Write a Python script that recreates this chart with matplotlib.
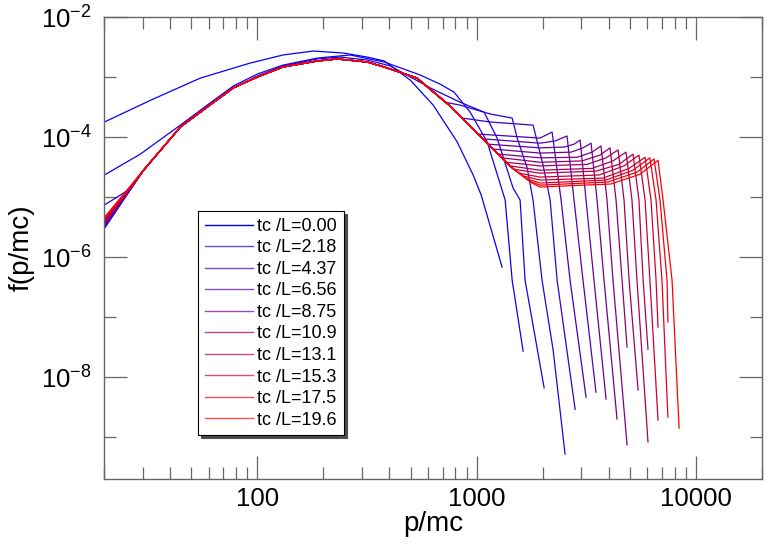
import math
import matplotlib
matplotlib.use("Agg")
import matplotlib.pyplot as plt
from matplotlib.lines import Line2D
from matplotlib.ticker import FixedLocator, LogLocator, NullFormatter

plt.rcParams['font.family'] = ['Liberation Sans', 'DejaVu Sans']
plt.rcParams['mathtext.fontset'] = 'custom'
plt.rcParams['mathtext.rm'] = 'Liberation Sans'
plt.rcParams['mathtext.it'] = 'Liberation Sans'

# shared low-momentum part (all later curves lie on it)
P_BUNDLE = [20.1, 30.3, 44.6, 59.1, 77.8, 100, 131, 188, 231, 317, 379, 535, 766, 1081, 1435, 1888]
F_BUNDLE = [4.1e-6, 2.8e-5, 1.47e-4, 3.16e-4, 6.6e-4, 1.0e-3, 1.47e-3, 1.85e-3, 2.0e-3,
            1.78e-3, 1.47e-3, 9.6e-4, 3.16e-4, 8.9e-5, 3.16e-5, 1.47e-5]

# first three curves have their own shape
P_T0 = [20.1, 32.6, 55.0, 92.9, 131, 180, 247, 317, 379, 498, 634, 815, 964, 1049, 1306]
F_T0 = [1.78e-4, 4.1e-4, 9.6e-4, 1.71e-3, 2.33e-3, 2.71e-3, 2.51e-3, 2.15e-3, 1.85e-3,
        8.9e-4, 3.4e-4, 8.3e-5, 2.33e-5, 1.08e-5, 6.8e-7]

P_T1 = [20.1, 29.3, 44.6, 59.1, 77.8, 100, 131, 188, 265, 379, 553, 682, 789, 934,
        1117, 1349, 1452, 1629]
F_T1 = [2.33e-5, 5.2e-5, 1.58e-4, 3.4e-4, 7.1e-4, 1.12e-3, 1.58e-3, 2.07e-3, 2.33e-3,
        1.78e-3, 1.08e-3, 7.6e-4, 5.6e-4, 2.6e-4, 8.3e-5, 8.9e-6, 4.1e-7, 2.7e-8]

P_T2 = [20.1, 23.0, 25.8, 30.3, 44.6, 59.1, 77.8, 100, 131, 188, 239, 317, 404, 614, 841,
        1081, 1240, 1466, 1578, 1663, 2031]
F_T2 = [7.4e-6, 1.0e-5, 1.31e-5, 2.8e-5, 1.47e-4, 3.16e-4, 6.6e-4, 1.04e-3, 1.53e-3,
        2.0e-3, 2.15e-3, 1.92e-3, 1.53e-3, 6.6e-4, 3.8e-4, 2.6e-4, 9.6e-5, 1.41e-5,
        8.9e-6, 4.1e-7, 6.6e-9]

# value at p=20 for curves 3..18
F_LEFT = [3.0e-6, 3.1e-6, 3.2e-6, 3.3e-6, 3.4e-6, 3.5e-6, 3.6e-6, 3.7e-6,
          3.8e-6, 3.9e-6, 4.0e-6, 4.1e-6, 4.2e-6, 4.3e-6, 4.4e-6, 4.6e-6]

# high-momentum tails (bump + cutoff) of curves 3..18
TAIL_P = [
    [718, 841, 1153, 1452, 1531, 1700, 1808, 1987, 2233, 2530],
    [859, 1153, 1808, 2009, 2163, 2328, 2812],
    [1016, 1945, 2208, 2427, 2667, 3154],
    [1071, 1945, 2279, 2583, 2780, 3055, 3500],
    [1128, 1945, 2504, 2780, 2964, 3154, 3428, 3890],
    [1189, 1945, 2695, 3055, 3324, 3540, 3810, 4365],
    [1253, 1945, 2871, 3359, 3690, 3930, 4185, 4850],
    [1306, 1945, 3024, 3652, 4055, 4321, 4603, 4850],
    [1363, 1945, 3187, 3890, 4415, 4699, 4955, 5445],
    [1421, 1945, 3359, 4185, 4797, 5108, 5383, 6043],
    [1482, 1945, 3500, 4459, 5165, 5495, 5741, 6043],
    [1562, 1945, 3615, 4699, 5495, 5861, 6166, 6714],
    [1629, 1945, 3770, 4955, 5861, 6237, 6577, 6714],
    [1700, 1945, 3890, 5165, 6166, 6577, 6998, 7447],
    [1735, 1945, 3972, 5383, 6442, 6855, 7379, 7447],
    [1790, 1945, 4100, 5557, 6714, 7079, 7780, 8375],
]
TAIL_F = [
    [3.8e-4, 3.4e-4, 2.42e-4, 2.07e-4, 9.6e-5, 3.04e-5, 8.9e-6, 4.1e-7, 2.8e-8, 5.2e-10],
    [2.07e-4, 1.78e-4, 1.58e-4, 3.4e-5, 8.9e-6, 4.1e-7, 2.9e-9],
    [1.12e-4, 9.6e-5, 1.21e-4, 8.9e-6, 4.1e-7, 4.6e-9],
    [9.3e-5, 7.9e-5, 8.6e-5, 1.04e-4, 8.9e-6, 4.1e-7, 5.6e-9],
    [7.6e-5, 6.6e-5, 6.8e-5, 7.6e-5, 8.9e-5, 8.9e-6, 4.1e-7, 4.3e-9],
    [6.3e-5, 5.4e-5, 5.6e-5, 6.6e-5, 7.9e-5, 8.9e-6, 4.1e-7, 2.0e-9],
    [5.2e-5, 4.5e-5, 4.6e-5, 5.6e-5, 7.1e-5, 8.9e-6, 4.1e-7, 7.4e-10],
    [4.5e-5, 3.8e-5, 4.0e-5, 5.0e-5, 6.6e-5, 8.9e-6, 4.1e-7, 3.16e-8],
    [3.8e-5, 3.3e-5, 3.5e-5, 4.5e-5, 6.1e-5, 8.9e-6, 4.1e-7, 6.1e-9],
    [3.3e-5, 2.8e-5, 3.0e-5, 4.0e-5, 5.6e-5, 8.9e-6, 4.1e-7, 8.3e-10],
    [2.9e-5, 2.5e-5, 2.7e-5, 3.5e-5, 5.2e-5, 8.9e-6, 4.1e-7, 2.9e-8],
    [2.5e-5, 2.15e-5, 2.33e-5, 3.3e-5, 5.0e-5, 8.9e-6, 4.1e-7, 1.92e-9],
    [2.24e-5, 1.92e-5, 2.07e-5, 3.0e-5, 4.6e-5, 8.9e-6, 4.1e-7, 6.8e-8],
    [2.0e-5, 1.71e-5, 1.92e-5, 2.8e-5, 4.5e-5, 8.9e-6, 4.1e-7, 2.15e-9],
    [1.85e-5, 1.58e-5, 1.78e-5, 2.6e-5, 4.3e-5, 8.9e-6, 4.1e-7, 8.3e-8],
    [1.71e-5, 1.47e-5, 1.65e-5, 2.4e-5, 4.1e-5, 8.9e-6, 4.1e-7, 1.41e-9],
]

N_CURVES = 19
LEGEND_IDX = [0, 2, 4, 6, 8, 10, 12, 14, 16, 18]
LEGEND_T = ['0.00', '2.18', '4.37', '6.56', '8.75', '10.9', '13.1', '15.3', '17.5', '19.6']
X_TICKS = [100, 1000, 10000]
Y_TICKS = [1e-8, 1e-6, 1e-4, 1e-2]
Y_MINOR = [1e-9, 1e-7, 1e-5, 1e-3]


def curve(k):
    if k == 0:
        return P_T0, F_T0
    if k == 1:
        return P_T1, F_T1
    if k == 2:
        return P_T2, F_T2
    tp, tf = TAIL_P[k - 3], TAIL_F[k - 3]
    p = [P_BUNDLE[0]]
    f = [F_LEFT[k - 3]]
    for pb, fb in zip(P_BUNDLE[1:], F_BUNDLE[1:]):
        if pb < tp[0]:
            p.append(pb)
            f.append(fb)
    return p + tp, f + tf


fig = plt.figure(figsize=(7.68, 5.47), dpi=100)
ax = fig.add_axes([0.1354, 0.1243, 0.8568, 0.8446])

for k in range(N_CURVES):
    s = k / (N_CURVES - 1)
    p, f = curve(k)
    ax.plot(p, f, color=(s, 0, 1 - s), lw=0.9)

ax.set_xscale('log')
ax.set_yscale('log')
ax.set_xlim(20, 20000)
ax.set_ylim(2e-10, 1e-2)

ax.yaxis.set_major_locator(FixedLocator(Y_TICKS))
ax.yaxis.set_minor_locator(FixedLocator(Y_MINOR))
ax.yaxis.set_minor_formatter(NullFormatter())
ax.xaxis.set_major_locator(FixedLocator(X_TICKS))
ax.xaxis.set_minor_locator(LogLocator(base=10, subs=range(2, 10), numticks=20))
ax.xaxis.set_minor_formatter(NullFormatter())
ax.xaxis.set_major_formatter(plt.FuncFormatter(lambda v, _: '%d' % round(v)))
ax.yaxis.set_major_formatter(plt.FuncFormatter(
    lambda v, _: r'$\mathdefault{10^{%d}}$' % round(math.log10(v))))

gray = '0.4'
for sp in ax.spines.values():
    sp.set_color(gray)
    sp.set_linewidth(1.0)
ax.tick_params(which='both', direction='in', top=True, right=True, color=gray, width=0.9)
ax.tick_params(which='major', length=16.5, labelsize=18.5)
ax.tick_params(which='minor', length=8.3)
ax.tick_params(axis='y', which='major', pad=9)
ax.tick_params(axis='x', which='major', pad=6)

ax.set_xlabel('p/mc', fontsize=20, labelpad=0)
ax.set_ylabel('f(p/mc)', fontsize=20, labelpad=4)

handles = []
for i, k in enumerate(LEGEND_IDX):
    s = k / (N_CURVES - 1)
    handles.append(Line2D([], [], color=(s, 0, 1 - s), lw=1.0,
                          alpha=1.0 if i == 0 else 0.7))
labels = ['tc /L=' + t for t in LEGEND_T]
leg = ax.legend(handles, labels, loc='upper left', bbox_to_anchor=(0.1429, 0.580),
                borderaxespad=0, fontsize=13, handlelength=2.65, handletextpad=0.25,
                labelspacing=0.25, borderpad=0.38, fancybox=False, framealpha=1,
                edgecolor='black', shadow={'color': '0.3', 'alpha': 1.0})
leg.get_frame().set_linewidth(0.8)

fig.savefig('out.png', dpi=100)
